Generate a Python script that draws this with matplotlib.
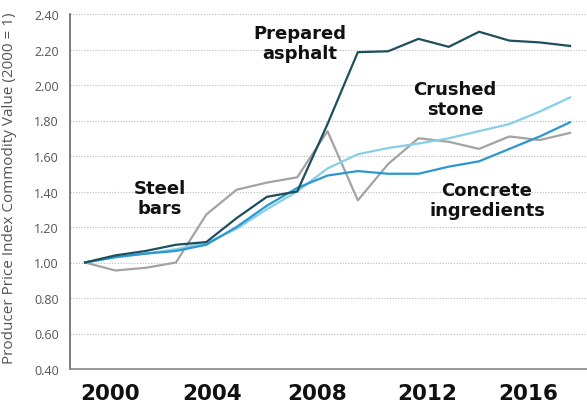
import matplotlib
matplotlib.use("Agg")
import matplotlib.pyplot as plt

years = list(range(2000, 2017))
asphalt = [1.00, 1.04, 1.065, 1.10, 1.115, 1.25, 1.37, 1.40, 1.78, 2.185, 2.19, 2.26, 2.215, 2.30, 2.25, 2.24, 2.22]
steel = [1.00, 0.955, 0.97, 1.00, 1.27, 1.41, 1.45, 1.48, 1.74, 1.35, 1.555, 1.70, 1.68, 1.64, 1.71, 1.69, 1.73]
crushed = [1.00, 1.03, 1.05, 1.075, 1.11, 1.19, 1.30, 1.40, 1.53, 1.61, 1.645, 1.67, 1.70, 1.74, 1.78, 1.85, 1.93]
concrete = [1.00, 1.03, 1.05, 1.065, 1.10, 1.20, 1.32, 1.42, 1.49, 1.515, 1.50, 1.50, 1.54, 1.57, 1.64, 1.71, 1.79]

ytick_vals = [0.40, 0.60, 0.80, 1.00, 1.20, 1.40, 1.60, 1.80, 2.00, 2.20, 2.40]
xtick_labels = ["2000", "2004", "2008", "2012", "2016"]
xtick_pos = [2000.82, 2004.19, 2007.65, 2011.28, 2014.62]

W, H = 587, 406
fig = plt.figure(figsize=(W / 100, H / 100), dpi=100)
ax = fig.add_axes([70 / W, (H - 370) / H, (587 - 70) / W, (370 - 15) / H])

ax.plot(years, steel, color="#a3a3a3", lw=1.6, zorder=3)
ax.plot(years, crushed, color="#86cfe8", lw=1.6, zorder=4)
ax.plot(years, concrete, color="#2b97cf", lw=1.6, zorder=5)
ax.plot(years, asphalt, color="#1e4f5c", lw=1.6, zorder=6)

ax.set_xlim(1999.505, 2016.56)
ax.set_ylim(0.40, 2.40)
ax.set_yticks(ytick_vals)
ax.set_yticklabels([f"{v:.2f}" for v in ytick_vals], fontsize=9, color="#555555", family="Open Sans")
ax.set_xticks(xtick_pos)
ax.set_xticklabels(xtick_labels, fontsize=15.5, fontweight="bold", family="DejaVu Sans", color="#111111")
ax.tick_params(axis="y", length=0, pad=8)
ax.tick_params(axis="x", length=0, pad=10)

for v in ytick_vals[1:]:
    ax.axhline(v, color="#bbbbbb", lw=0.8, ls=(0, (1, 1.5)), zorder=1)

for s in ["top", "right"]:
    ax.spines[s].set_visible(False)
ax.spines["left"].set_color("#666666")
ax.spines["left"].set_linewidth(1.2)
ax.spines["bottom"].set_color("#888888")
ax.spines["bottom"].set_linewidth(1.2)

fig.text(10 / W, 1 - 364 / H, "Producer Price Index Commodity Value (2000 = 1)", rotation=90,
         ha="center", va="bottom", fontsize=11, color="#555555", family="Open Sans")

kw = dict(fontsize=13, fontweight="bold", family="DejaVu Sans", color="#111111",
          ha="center", va="center", linespacing=1.1, transform=fig.transFigure)
fig.text(160 / W, 1 - 199 / H, "Steel\nbars", **kw)
fig.text(300 / W, 1 - 44 / H, "Prepared\nasphalt", **kw)
fig.text(455 / W, 1 - 100 / H, "Crushed\nstone", **kw)
fig.text(487 / W, 1 - 201 / H, "Concrete\ningredients", **kw)

fig.savefig("out.png", dpi=100)
